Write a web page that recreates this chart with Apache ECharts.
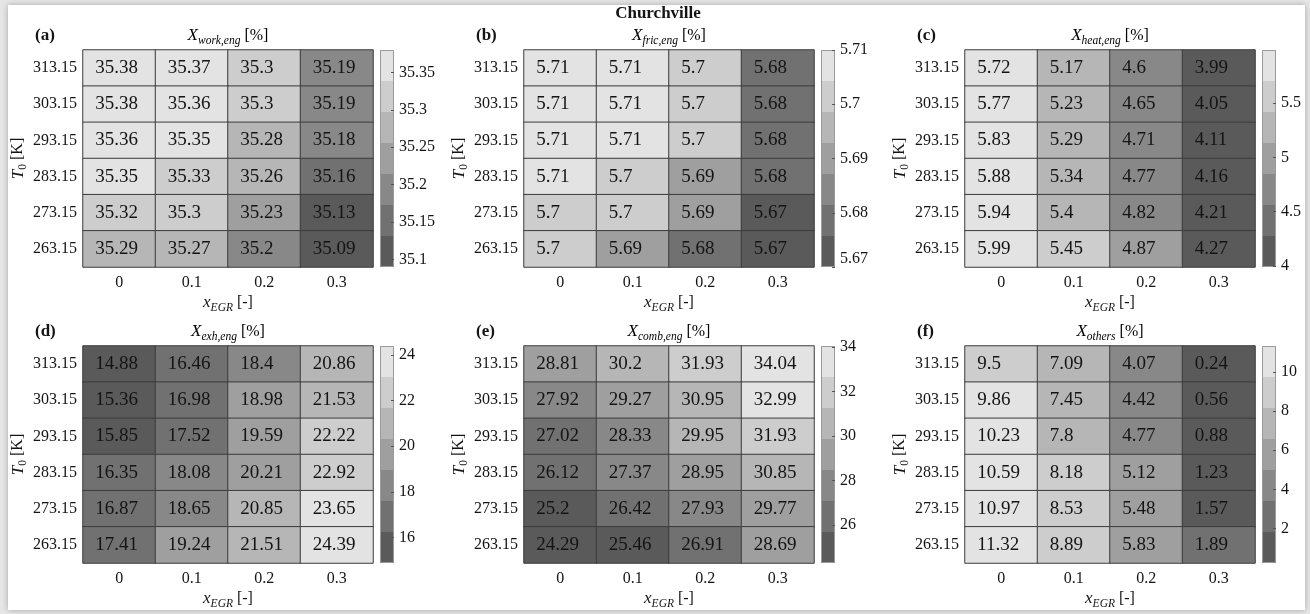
<!DOCTYPE html>
<html><head><meta charset="utf-8">
<script src="https://cdn.jsdelivr.net/npm/echarts@6/dist/echarts.min.js"></script>
<style>
html,body{margin:0;padding:0;background:#e6e6e6;overflow:hidden;}
#frame{position:absolute;left:8px;top:5px;width:1297px;height:605px;background:#fff;box-shadow:0 0 6px rgba(0,0,0,0.28);}
#chart{position:absolute;left:0;top:0;width:1310px;height:614px;}
</style></head><body><div id="frame"></div><div id="chart"></div>
<script>
// ---- data ----
const xCategories = ['0', '0.1', '0.2', '0.3'];
const yCategories = ['313.15', '303.15', '293.15', '283.15', '273.15', '263.15'];
const mainTitle = 'Churchville';
const panelLetters = ['(a)', '(b)', '(c)', '(d)', '(e)', '(f)'];
const panelSubs = ['work,eng', 'fric,eng', 'heat,eng', 'exh,eng', 'comb,eng', 'others'];

const workEng = [
  [35.38, 35.37, 35.3, 35.19],
  [35.38, 35.36, 35.3, 35.19],
  [35.36, 35.35, 35.28, 35.18],
  [35.35, 35.33, 35.26, 35.16],
  [35.32, 35.3, 35.23, 35.13],
  [35.29, 35.27, 35.2, 35.09]
];
const fricEng = [
  [5.71, 5.71, 5.7, 5.68],
  [5.71, 5.71, 5.7, 5.68],
  [5.71, 5.71, 5.7, 5.68],
  [5.71, 5.7, 5.69, 5.68],
  [5.7, 5.7, 5.69, 5.67],
  [5.7, 5.69, 5.68, 5.67]
];
const heatEng = [
  [5.72, 5.17, 4.6, 3.99],
  [5.77, 5.23, 4.65, 4.05],
  [5.83, 5.29, 4.71, 4.11],
  [5.88, 5.34, 4.77, 4.16],
  [5.94, 5.4, 4.82, 4.21],
  [5.99, 5.45, 4.87, 4.27]
];
const exhEng = [
  [14.88, 16.46, 18.4, 20.86],
  [15.36, 16.98, 18.98, 21.53],
  [15.85, 17.52, 19.59, 22.22],
  [16.35, 18.08, 20.21, 22.92],
  [16.87, 18.65, 20.85, 23.65],
  [17.41, 19.24, 21.51, 24.39]
];
const combEng = [
  [28.81, 30.2, 31.93, 34.04],
  [27.92, 29.27, 30.95, 32.99],
  [27.02, 28.33, 29.95, 31.93],
  [26.12, 27.37, 28.95, 30.85],
  [25.2, 26.42, 27.93, 29.77],
  [24.29, 25.46, 26.91, 28.69]
];
const others = [
  [9.5, 7.09, 4.07, 0.24],
  [9.86, 7.45, 4.42, 0.56],
  [10.23, 7.8, 4.77, 0.88],
  [10.59, 8.18, 5.12, 1.23],
  [10.97, 8.53, 5.48, 1.57],
  [11.32, 8.89, 5.83, 1.89]
];
const ticksWork = [35.1, 35.15, 35.2, 35.25, 35.3, 35.35];
const ticksFric = [5.67, 5.68, 5.69, 5.7, 5.71];
const ticksHeat = [4, 4.5, 5, 5.5];
const ticksExh = [16, 18, 20, 22, 24];
const ticksComb = [26, 28, 30, 32, 34];
const ticksOthers = [2, 4, 6, 8, 10];

const grays = ['#5a5a5a', '#717171', '#888888', '#9f9f9f', '#b6b6b6', '#cdcdcd', '#e3e3e3'];

// ---- build ----
const FONT = 'Liberation Serif';
const TXT = '#141414';
const panels = [
  {vals: workEng, ticks: ticksWork},
  {vals: fricEng, ticks: ticksFric},
  {vals: heatEng, ticks: ticksHeat},
  {vals: exhEng, ticks: ticksExh},
  {vals: combEng, ticks: ticksComb},
  {vals: others, ticks: ticksOthers}
];
const colLeft = [83, 524, 965];
const rowTop = [50, 346];
const GW = 290, GH = 217;

const richBase = {
  i: {fontFamily: FONT, fontStyle: 'italic', fontSize: 17, color: TXT, lineHeight: 22},
  si: {fontFamily: FONT, fontStyle: 'italic', fontSize: 11.5, color: TXT, lineHeight: 12, verticalAlign: 'bottom'},
  s: {fontFamily: FONT, fontSize: 11.5, color: TXT, lineHeight: 12, verticalAlign: 'bottom'},
  n: {fontFamily: FONT, fontSize: 16, color: TXT, lineHeight: 22}
};

const grid = [], xAxis = [], yAxis = [], series = [], visualMap = [], graphic = [];

graphic.push({type: 'text', x: 658, y: 14, style: {text: mainTitle, font: 'bold 17px "' + FONT + '"', fill: TXT, align: 'center', verticalAlign: 'middle', textAlign: 'center', textVerticalAlign: 'middle'}});

panels.forEach((p, k) => {
  const col = k % 3, row = Math.floor(k / 3);
  const L = colLeft[col], T = rowTop[row];
  const flat = p.vals.flat();
  const mn = Math.min(...flat), mx = Math.max(...flat);
  const step = (mx - mn) / 7;

  // heatmap grid
  const gi = grid.length;
  grid.push({left: L, top: T, width: GW, height: GH, show: false});
  xAxis.push({
    type: 'category', gridIndex: gi, data: xCategories, position: 'bottom',
    axisLine: {show: false}, axisTick: {show: false}, splitLine: {show: false},
    axisLabel: {fontFamily: FONT, fontSize: 16, color: TXT, margin: 8},
    name: '{i|x}{si|EGR}{n| [-]}', nameLocation: 'middle', nameGap: 25,
    nameTextStyle: {rich: richBase}
  });
  yAxis.push({
    type: 'category', gridIndex: gi, data: yCategories, inverse: true,
    axisLine: {show: false}, axisTick: {show: false}, splitLine: {show: false},
    axisLabel: {fontFamily: FONT, fontSize: 16, color: TXT, margin: 6},
    name: '{i|T}{s|0}{n| [K]}', nameLocation: 'middle', nameGap: 52, nameRotate: 90,
    nameTextStyle: {rich: richBase}
  });
  const data = [];
  p.vals.forEach((r, ri) => r.forEach((v, ci) => data.push([ci, ri, v])));
  const si = series.length;
  series.push({
    type: 'heatmap', xAxisIndex: gi, yAxisIndex: gi, data: data, silent: true,
    itemStyle: {borderColor: '#3c3c3c', borderWidth: 1},
    label: {
      show: true, position: [13, '50%'], align: 'left', verticalAlign: 'middle',
      fontFamily: FONT, fontSize: 19, color: TXT,
      formatter: (q) => String(+q.value[2].toFixed(2))
    },
    emphasis: {disabled: true}
  });
  const pieces = [];
  for (let i = 0; i < 7; i++) {
    const pc = {gte: mn + i * step, color: grays[i]};
    if (i < 6) pc.lt = mn + (i + 1) * step; else pc.lte = mx + 1e-9;
    pieces.push(pc);
  }
  visualMap.push({type: 'piecewise', show: false, seriesIndex: si, dimension: 2, pieces: pieces});

  // colorbar grid
  const ci = grid.length;
  grid.push({left: L + 297, top: T, width: 14, height: GH, show: false});
  xAxis.push({type: 'value', gridIndex: ci, min: 0, max: 1, show: false});
  yAxis.push({
    type: 'value', gridIndex: ci, min: mn, max: mx, position: 'right', z: 10,
    axisLine: {show: false, onZero: false}, splitLine: {show: false},
    axisTick: {show: true, inside: true, length: 3, customValues: p.ticks, lineStyle: {color: '#555', width: 1}},
    axisLabel: {
      show: true, customValues: p.ticks, fontFamily: FONT, fontSize: 16, color: TXT, margin: 5,
      verticalAlignMinLabel: k === 1 ? 'bottom' : 'middle',
      formatter: (v) => String(v)
    }
  });
  const cbData = [];
  for (let i = 0; i < 7; i++) cbData.push([0, mn + i * step, mn + (i + 1) * step, i]);
  cbData.push([0, mn, mx, -1]);
  series.push({
    type: 'custom', xAxisIndex: ci, yAxisIndex: ci, silent: true, clip: false,
    encode: {x: 0, y: [1, 2]},
    data: cbData,
    renderItem: (params, api) => {
      const lo = api.coord([0, api.value(1)]);
      const hi = api.coord([0, api.value(2)]);
      const cs = params.coordSys;
      const idx = api.value(3);
      if (idx < 0) {
        return {type: 'rect', shape: {x: cs.x + 0.5, y: hi[1] + 0.5, width: cs.width - 1, height: lo[1] - hi[1] - 1},
          style: {fill: 'none', stroke: '#9a9a9a', lineWidth: 1}, z2: 10};
      }
      return {type: 'rect', shape: {x: cs.x, y: hi[1], width: cs.width, height: lo[1] - hi[1]},
        style: {fill: grays[idx], stroke: null}};
    }
  });

  // titles
  const ty = T - 14;
  graphic.push({type: 'text', x: L - 48, y: ty, style: {text: panelLetters[k], font: 'bold 17px "' + FONT + '"', fill: TXT, align: 'left', verticalAlign: 'middle', textAlign: 'left', textVerticalAlign: 'middle'}});
  graphic.push({type: 'text', x: L + GW / 2, y: ty, style: {
    text: '{i|X}{si|' + panelSubs[k] + '}{n| [%]}', rich: richBase, align: 'center', verticalAlign: 'middle', textAlign: 'center', textVerticalAlign: 'middle'}});
});

const chart = echarts.init(document.getElementById('chart'), null, {renderer: 'canvas'});
chart.setOption({
  backgroundColor: 'transparent',
  animation: false,
  grid, xAxis, yAxis, series, visualMap, graphic
});
</script>
</body></html>
